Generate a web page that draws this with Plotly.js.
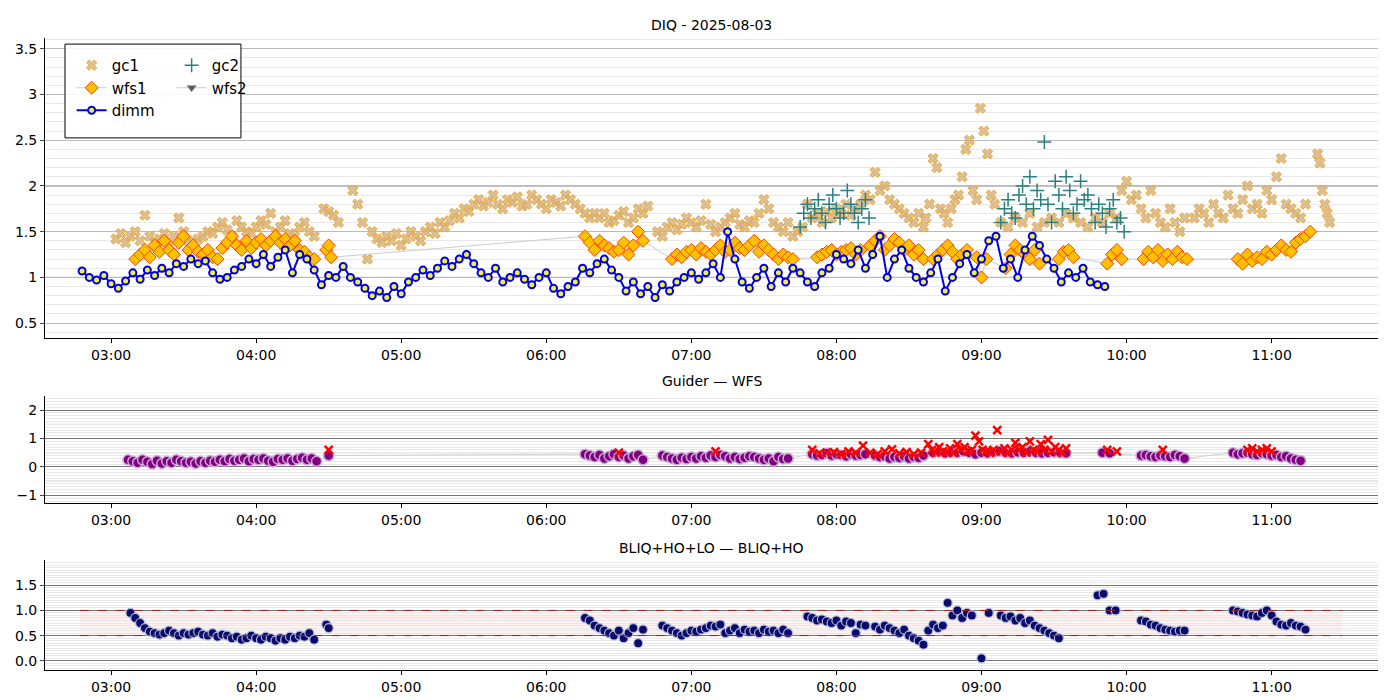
<!DOCTYPE html>
<html>
<head>
<meta charset="utf-8">
<script src="https://cdn.plot.ly/plotly-3.0.1.min.js"></script>
<style>body{margin:0;background:#fff}#plot{width:1400px;height:700px}</style>
</head>
<body>
<div id="plot"></div>
<script>
// each segment: [start minute after 03:00, step in minutes, values]
var gc1 = [
  [2, 2, [1.42,1.48,1.38,1.45,1.5,1.4,1.68,1.45,1.38,1.42,1.48,1.35,1.45,1.65,1.5,1.4,1.38,1.42,1.45,1.5,1.48,1.55,1.6,1.52,1.45,1.62,1.55,1.5,1.48,1.55,1.62,1.58,1.7,1.5,1.55,1.62,1.48,1.45,1.55,1.6,1.5,1.45]],
  [88, 2, [1.75,1.72,1.68,1.6]],
  [100, 2, [1.95,1.8,1.6,1.2,1.5,1.42,1.38,1.45,1.4,1.48,1.35,1.42,1.5,1.45,1.4,1.5,1.55,1.48,1.6,1.55,1.62,1.7,1.65,1.75,1.72,1.8,1.85,1.78,1.82,1.9,1.8,1.75,1.85,1.82,1.88,1.78,1.8,1.9,1.85,1.8,1.75,1.85,1.82,1.78,1.9,1.85,1.8,1.75,1.7,1.65,1.7]],
  [202, 2, [1.65,1.7,1.6,1.62,1.68,1.72,1.6,1.65,1.75,1.7,1.78]],
  [226, 2, [1.5,1.45,1.55,1.6,1.52,1.58,1.65,1.6,1.55,1.62,1.8,1.58,1.5,1.55,1.6,1.65,1.7,1.58,1.55,1.62,1.6,1.7,1.85,1.75,1.6,1.55,1.5,1.6,1.45,1.5]],
  [286, 2, [1.55,1.8,1.65,1.7,1.6,1.72,1.65,1.75,1.7,1.8,1.68,1.75,1.8,1.9,1.85,2.15,1.95,2.0,1.85,1.8,1.75,1.7,1.65,1.6,1.7,1.55]],
  [337, 1.5, [1.65,1.8,2.3,2.2,1.75,1.7,1.6,1.75,1.85,1.9,2.1,2.4,2.5,1.95,1.85,2.85,2.6,2.35,1.9,1.8]],
  [368, 3, [1.6,1.55,1.65,1.6,1.7,1.55,1.6,1.65,1.6,1.7,1.65,1.6,1.55,1.65,1.6,1.7,1.65]],
  [418, 2, [1.95,2.05,1.85,1.9,1.75,1.65,1.95,1.7,1.6,1.55,1.75,1.6,1.5,1.65]],
  [448, 2, [1.65,1.75,1.7,1.6,1.8,1.7,1.65,1.9,1.75,1.7,1.85,2.0,1.75,1.8,1.7,1.95,1.85,2.1,2.3,1.8,1.75,1.7,1.65,1.8]],
  [499, 1, [2.35,2.25,1.95,1.8,1.7,1.6]]
];
var gc2 = [
  [285, 1.5, [1.55,1.7,1.8,1.65,1.75,1.85,1.7,1.6,1.8,1.9,1.75,1.65,1.7,1.95,1.8,1.7,1.6,1.75,1.85,1.65]],
  [368, 1.5, [1.6,1.75,1.85,1.7,1.65,1.9,2.0,1.8,2.1,1.75,1.95,1.85,2.48,1.8,1.6,2.05,1.9,1.75,2.1,1.95,1.7,1.8,2.05,1.85,1.9,1.75,1.6,1.8,1.7,1.55,1.75,1.85,1.6,1.65,1.5]]
];
var wfs1 = [
  [10, 2, [1.2,1.25,1.3,1.22,1.35,1.28,1.4,1.3,1.25,1.38,1.45,1.3,1.35,1.28,1.25,1.3,1.22,1.2,1.32,1.38,1.45,1.35,1.3,1.4,1.32,1.38,1.42,1.35,1.4,1.45,1.38,1.42,1.35,1.4,1.3,1.28,1.22,1.2]],
  [89, 1, [1.3,1.35,1.22]],
  [196, 2, [1.45,1.38,1.3,1.4,1.35,1.32,1.28,1.3,1.38,1.25,1.35,1.5,1.4]],
  [232, 2, [1.2,1.25,1.22,1.28,1.3,1.25,1.32,1.28,1.25,1.3,1.35,1.28,1.3,1.38,1.32,1.3,1.35,1.4,1.28]],
  [270, 2, [1.35,1.3,1.25,1.2,1.25,1.22,1.2]],
  [292, 2, [1.22,1.25,1.28,1.3,1.25,1.28,1.3,1.32,1.25,1.3]],
  [314, 2, [1.35,1.4,1.45,1.3,1.35,1.42,1.38,1.3,1.35,1.25,1.3,1.2]],
  [340, 2, [1.2,1.25,1.3,1.35,1.28,1.2,1.25,1.3]],
  [358, 2, [1.22,1.0,1.2]],
  [370, 2, [1.1,1.25,1.35,1.3,1.25,1.2,1.3,1.15]],
  [392, 2, [1.2,1.28,1.3,1.22]],
  [412, 2, [1.15,1.25,1.3,1.2]],
  [427, 2, [1.2,1.28,1.22,1.3,1.18,1.25,1.2,1.28,1.22,1.2]],
  [466, 2, [1.2,1.15,1.25,1.18,1.22,1.2,1.28,1.25,1.3,1.35,1.3,1.28,1.38,1.42,1.45,1.5]]
];
var dimm = [
  [-12, 3, [1.07,1.0,0.97,1.02,0.93,0.88,0.96,1.05,0.98,1.08,1.02,1.1,1.05,1.15,1.12,
    1.2,1.15,1.18,1.05,0.98,1.0,1.08,1.12,1.2,1.15,1.25,1.12,1.22,1.3,1.05,
    1.25,1.2,1.08,0.92,1.02,1.0,1.12,1.0,0.95,0.88,0.8,0.85,0.78,0.9,0.82,
    0.95,1.0,1.08,1.02,1.1,1.18,1.12,1.2,1.25,1.15,1.05,1.0,1.1,0.95,1.0,
    1.05,0.98,0.92,1.0,1.05,0.88,0.82,0.9,0.95,1.1,1.05,1.15,1.2,1.08,1.0,
    0.85,0.95,0.82,0.9,0.78,0.92,0.85,0.95,1.0,1.05,0.98,1.05,1.15,1.0,1.5,
    1.2,0.95,0.88,1.0,1.1,0.9,1.05,0.95,1.1,1.05,0.95,0.9,1.05,1.1,1.25,
    1.2,1.15,1.3,1.1,1.25,1.45,1.0,1.2,1.3,1.1,1.0,0.95,1.05,1.2,0.85,
    1.0,1.15,1.25,1.05,1.2,1.4,1.45,1.1,1.2,1.0,1.3,1.45,1.35,1.2,1.1,
    0.95,1.05,1.0,1.1,0.95,0.92,0.9]]
];
var gwPurple = [
  [7, 2, [0.25,0.2,0.15,0.25,0.18,0.1,0.22,0.12,0.2,0.15,0.25,0.2,0.15,0.18,0.12,0.2,0.15,0.22,0.18,0.25,0.2,0.28,0.22,0.25,0.3,0.2,0.28,0.25,0.3,0.22,0.18,0.28,0.25,0.3,0.22,0.28,0.32,0.25,0.3,0.2]],
  [90, 1, [0.4]],
  [196, 2, [0.45,0.4,0.35,0.42,0.3,0.38,0.45,0.35,0.4,0.3,0.38,0.42,0.25]],
  [228, 2, [0.4,0.35,0.3,0.25,0.32,0.28,0.35,0.3,0.38,0.32,0.4,0.35,0.42,0.38,0.3,0.35,0.28,0.32,0.38,0.35,0.3,0.25,0.3,0.2,0.35,0.28,0.3]],
  [290, 2, [0.45,0.4,0.42,0.48,0.4,0.45,0.42,0.38,0.45,0.4,0.42,0.45]],
  [316, 2, [0.4,0.35,0.38,0.3,0.35,0.32,0.38,0.3,0.35,0.32,0.4]],
  [340, 2.5, [0.5,0.55,0.48,0.52,0.5,0.55,0.5,0.45,0.5,0.48,0.52,0.55,0.5,0.48,0.52,0.5,0.55,0.5,0.48,0.5,0.52,0.5,0.48]],
  [410, 3, [0.5,0.48]],
  [426, 2, [0.4,0.42,0.38,0.35,0.4,0.38,0.35,0.42,0.38,0.3]],
  [464, 2, [0.5,0.45,0.48,0.5,0.45,0.42,0.48,0.45,0.4,0.42,0.35,0.38,0.3,0.25,0.22]]
];
var gwRed = [
  [90, 1, [0.6]], [210, 1, [0.5]], [250, 1, [0.55]],
  [290, 3, [0.6,0.48,0.5,0.52,0.45,0.55,0.5,0.75,0.5,0.45,0.55,0.62,0.48,0.52,0.45,0.5]],
  [338, 1.5, [0.8,0.6,0.5,0.7,0.55,0.5,0.65,0.5,0.8,0.6,0.7,0.55,0.6,1.1,0.9,0.6,0.55,0.5,0.6,1.3,0.55,0.65,0.5,0.6,0.85,0.6,0.7,0.5,0.9,0.6,0.55,0.8,0.6,0.95,0.55,0.7,0.6,0.5,0.65]],
  [412, 4, [0.6,0.55]], [435, 1, [0.6]],
  [470, 2, [0.6,0.65,0.55,0.6,0.65,0.55]]
];
var bliq = [
  [8, 2, [0.95,0.85,0.75,0.65,0.58,0.55,0.52,0.55,0.6,0.55,0.5,0.55,0.52,0.55,0.58,0.52,0.5,0.55,0.48,0.52,0.5,0.45,0.48,0.42,0.45,0.5,0.45,0.42,0.48,0.45,0.4,0.45,0.42,0.48,0.45,0.5,0.48,0.55,0.42]],
  [89, 1, [0.72,0.65]],
  [196, 2, [0.85,0.8,0.7,0.65,0.6,0.55,0.5,0.6,0.45,0.55,0.65,0.35,0.62]],
  [228, 2, [0.7,0.65,0.6,0.55,0.5,0.55,0.6,0.58,0.62,0.65,0.7,0.68,0.72,0.55,0.6,0.65,0.55,0.62,0.58,0.6,0.55,0.62,0.58,0.6,0.55,0.62,0.55]],
  [288, 2, [0.88,0.85,0.8,0.82,0.78,0.75,0.8,0.7,0.78,0.75,0.55,0.72,0.7]],
  [316, 2, [0.68,0.62,0.7,0.65,0.6,0.55,0.62,0.5,0.45,0.4,0.32]],
  [338, 2, [0.6,0.72,0.65,0.7]],
  [346, 2, [1.15,0.9,1.0,0.85,0.95,0.9]],
  [360, 3, [0.05,0.95]],
  [368, 2, [0.9,0.85,0.88,0.8,0.85,0.75,0.8,0.7,0.65,0.6,0.55,0.5,0.45]],
  [408, 2.5, [1.3,1.33,1.0,1.0]],
  [426, 2, [0.8,0.78,0.72,0.7,0.65,0.62,0.6,0.58,0.6,0.6]],
  [464, 2, [1.0,0.98,0.95,0.92,0.9,0.88,0.95,1.0,0.9,0.78,0.72,0.7,0.75,0.7,0.68,0.62]]
];
var bandLow = 0.5, bandHigh = 1.0;

function ts(m) {
  var d = new Date(Date.UTC(2025, 7, 3, 3, 0) + m * 60000);
  return d.toISOString().slice(0, 19).replace('T', ' ');
}
function expand(segs) {
  var x = [], y = [];
  segs.forEach(function (s) {
    s[2].forEach(function (v, i) { x.push(ts(s[0] + i * s[1])); y.push(v); });
  });
  return {x: x, y: y};
}

var g1 = expand(gc1), g2 = expand(gc2), w1 = expand(wfs1), dm = expand(dimm);
var gp = expand(gwPurple), gr = expand(gwRed), bq = expand(bliq);
var font = {family: 'DejaVu Sans', size: 14, color: '#000'};
var lfont = {family: 'DejaVu Sans', size: 15, color: '#000'};

var data = [
  {x: g1.x, y: g1.y, name: 'gc1', type: 'scatter', mode: 'markers',
   marker: {symbol: 'x', size: 9, color: 'rgba(215,180,130,0.85)', line: {color: '#e8a838', width: 1}}},
  {x: w1.x, y: w1.y, name: 'wfs1', type: 'scatter', mode: 'lines+markers',
   line: {color: '#cccccc', width: 1},
   marker: {symbol: 'diamond', size: 10, color: '#ffc000', line: {color: '#ff4000', width: 1}}},
  {x: dm.x, y: dm.y, name: 'dimm', type: 'scatter', mode: 'lines+markers',
   line: {color: '#0000e0', width: 2},
   marker: {symbol: 'circle', size: 7, color: '#f0f040', line: {color: '#0000e0', width: 2}}},
  {x: g2.x, y: g2.y, name: 'gc2', type: 'scatter', mode: 'markers', legend: 'legend2',
   marker: {symbol: 'cross-thin', size: 10, color: '#2a7f80', line: {color: '#2a7f80', width: 1.5}}},
  {x: [null], y: [null], name: 'wfs2', type: 'scatter', mode: 'lines+markers', legend: 'legend2',
   showlegend: true, line: {color: '#cccccc', width: 1},
   marker: {symbol: 'triangle-down', size: 8, color: '#555566', line: {color: '#999', width: 1}}},
  {x: gp.x, y: gp.y, type: 'scatter', mode: 'lines+markers', xaxis: 'x2', yaxis: 'y2', showlegend: false,
   line: {color: '#d0d0d0', width: 1},
   marker: {size: 10, color: '#800080', line: {color: '#c9a6d6', width: 1.5}}},
  {x: gr.x, y: gr.y, type: 'scatter', mode: 'markers', xaxis: 'x2', yaxis: 'y2', showlegend: false,
   marker: {symbol: 'x-thin', size: 8, color: '#ff0000', line: {color: '#ff0000', width: 2.5}}},
  {x: bq.x, y: bq.y, type: 'scatter', mode: 'markers', xaxis: 'x3', yaxis: 'y3', showlegend: false,
   marker: {size: 9, color: '#0b0b6b', line: {color: '#b0b8d8', width: 1.2}}}
];

var xr = ['2025-08-03 02:32:40', '2025-08-03 11:44:00'];
function xax(anchor) {
  return {range: xr, type: 'date', tickformat: '%H:%M', dtick: 3600000, anchor: anchor,
    showgrid: false, showline: true, linecolor: '#000', ticks: 'outside', ticklen: 4,
    tickcolor: '#000', tickfont: font, zeroline: false};
}
function yax(dom, range, tv, minor, gc) {
  return {domain: dom, range: range, tickvals: tv, showline: true, linecolor: '#000',
    ticks: 'outside', ticklen: 4, tickfont: font, gridcolor: gc, zeroline: false,
    minor: {dtick: minor, showgrid: true, gridcolor: '#e8e8e8', ticks: ''}};
}
function hline(yref, v, c) {
  return {type: 'line', xref: 'paper', x0: 0, x1: 1, yref: yref, y0: v, y1: v,
    line: {color: c, width: 1}, layer: 'below'};
}

var shapes = [
  hline('y', 1, '#777'), hline('y', 2, '#777'), hline('y', 3, '#777'),
  hline('y2', -0.5, '#bbb'), hline('y2', 0.5, '#bbb'), hline('y2', 1.5, '#bbb'),
  {type: 'rect', xref: 'x3', yref: 'y3', x0: ts(-13), x1: ts(509), y0: bandLow, y1: bandHigh,
   fillcolor: 'rgba(255,0,0,0.06)', line: {width: 0}, layer: 'below'},
  {type: 'line', xref: 'x3', yref: 'y3', x0: ts(-13), x1: ts(509), y0: bandLow, y1: bandLow,
   line: {color: '#a02020', width: 1, dash: 'dash'}},
  {type: 'line', xref: 'x3', yref: 'y3', x0: ts(-13), x1: ts(509), y0: bandHigh, y1: bandHigh,
   line: {color: '#a02020', width: 1, dash: 'dash'}},
  {type: 'rect', xref: 'paper', yref: 'paper', x0: 0.015, x1: 0.147, y0: 0.803, y1: 0.937,
   line: {color: '#000', width: 1}, fillcolor: 'rgba(255,255,255,0.9)', layer: 'above'}
];

var layout = {
  width: 1400, height: 700, margin: {l: 45, r: 22, t: 0, b: 0},
  paper_bgcolor: '#fff', plot_bgcolor: '#fff', font: font,
  xaxis: xax('y'), xaxis2: xax('y2'), xaxis3: xax('y3'),
  yaxis: yax([0.517, 0.946], [0.336, 3.62], [0.5, 1, 1.5, 2, 2.5, 3, 3.5], 0.1, '#bbb'),
  yaxis2: Object.assign(yax([0.281, 0.434], [-1.28, 2.49], [-1, 0, 1, 2], 0.1, '#777'), {anchor: 'x2'}),
  yaxis3: Object.assign(yax([0.043, 0.2], [-0.18, 2.0], [0, 0.5, 1.0, 1.5], 0.05, '#777'),
    {anchor: 'x3', tickformat: '.1f'}),
  shapes: shapes,
  legend: {x: 0.02, y: 0.93, xanchor: 'left', yanchor: 'top', bgcolor: 'rgba(0,0,0,0)',
    font: lfont, tracegroupgap: 0, itemwidth: 30},
  legend2: {x: 0.095, y: 0.93, xanchor: 'left', yanchor: 'top', bgcolor: 'rgba(0,0,0,0)',
    font: lfont, itemwidth: 30},
  annotations: [
    {text: 'DIQ - 2025-08-03', xref: 'paper', yref: 'paper', x: 0.5, y: 1 - 25 / 700, yanchor: 'middle', showarrow: false, font: font},
    {text: 'Guider — WFS', xref: 'paper', yref: 'paper', x: 0.5, y: 1 - 381 / 700, yanchor: 'middle', showarrow: false, font: font},
    {text: 'BLIQ+HO+LO — BLIQ+HO', xref: 'paper', yref: 'paper', x: 0.5, y: 1 - 548 / 700, yanchor: 'middle', showarrow: false, font: font}
  ]
};

Plotly.newPlot('plot', data, layout, {displayModeBar: false});
</script>
</body>
</html>
